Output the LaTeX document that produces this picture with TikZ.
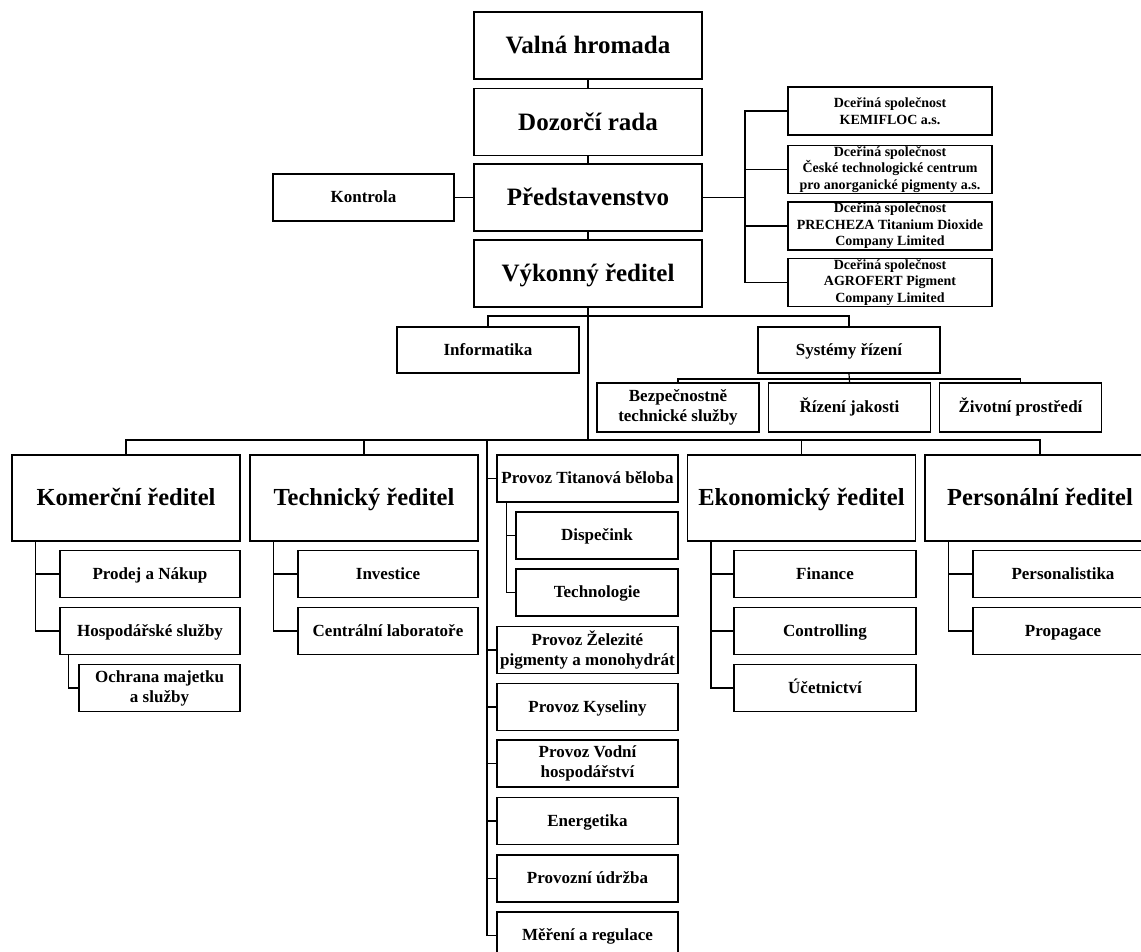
\documentclass[tikz,border=0pt]{standalone}
\usepackage{fontspec}
\setmainfont{Liberation Serif}
\usetikzlibrary{positioning,calc}
\tikzset{
    box/.style={
        draw,
        rectangle,
        fill=white,
        line width=1.2pt,
        inner sep=1pt,
        align=center
    },
    lines/.style={text height={}, text depth={}},
    topbox/.style={
        box,
        text height=21.5pt, text depth=5.5pt,
        minimum width=228pt,
        minimum height=67pt,
        font=\bfseries\fontsize{25}{30}\selectfont
    },
    chiefbox/.style={
        box,
        text height=21pt, text depth=5.4pt,
        minimum width=228pt,
        minimum height=86pt,
        font=\bfseries\fontsize{24.5}{29}\selectfont
    },
    unitbox/.style={
        box,
        text height=14.6pt, text depth=3.7pt,
        minimum width=181pt,
        minimum height=47pt,
        font=\bfseries\fontsize{17}{20}\selectfont
    },
    smallunit/.style={
        unitbox,
        minimum width=162pt
    },
    firmbox/.style={
        box,
        minimum width=204pt,
        minimum height=48pt,
        font=\bfseries\fontsize{14}{16.5}\selectfont
    },
    link/.style={line width=1.2pt}
}

\begin{document}
\begin{tikzpicture}[x=1pt, y=-1pt]
    \useasboundingbox (0,0) rectangle (1141,951);

    \node[topbox] (valna) at (588,45.5) {Valná hromada};
    \node[topbox] (dozor) at (588,122) {Dozorčí rada};
    \node[topbox] (pred) at (588,197.5) {Představenstvo};
    \node[topbox] (vykon) at (588,273.5) {Výkonný ředitel};
    \node[unitbox] (kontrola) at (363.5,197.5) {Kontrola};

    \node[firmbox] (firma1) at (890,111) {Dceřiná společnost\\KEMIFLOC a.s.};
    \node[firmbox] (firma2) at (890,169.5) {Dceřiná společnost\\České technologické centrum\\pro anorganické pigmenty a.s.};
    \node[firmbox] (firma3) at (890,226) {Dceřiná společnost\\PRECHEZA Titanium Dioxide\\Company Limited};
    \node[firmbox] (firma4) at (890,282.5) {Dceřiná společnost\\AGROFERT Pigment\\Company Limited};

    \node[unitbox, minimum width=182pt, minimum height=46pt] (info) at (488,350) {Informatika};
    \node[unitbox, minimum width=182pt, minimum height=46pt] (system) at (849,350) {Systémy řízení};
    \node[smallunit, lines, minimum height=49pt] (bezp) at (678,407.5) {Bezpečnostně\\technické služby};
    \node[smallunit, minimum height=49pt] (jakost) at (849.5,407.5) {Řízení jakosti};
    \node[smallunit, minimum height=49pt] (zivot) at (1020.5,407.5) {Životní prostředí};

    \node[chiefbox] (komer) at (126,498) {Komerční ředitel};
    \node[chiefbox] (techn) at (364,498) {Technický ředitel};
    \node[chiefbox] (ekon) at (801.5,498) {Ekonomický ředitel};
    \node[chiefbox, minimum width=230pt] (person) at (1040,498) {Personální ředitel};

    \node[unitbox, minimum width=180pt] (prodej) at (150,574) {Prodej a Nákup};
    \node[unitbox, minimum width=180pt] (hosp) at (150,631) {Hospodářské služby};
    \node[smallunit, lines, minimum width=161pt] (ochrana) at (159.5,688) {Ochrana majetku\\a služby};

    \node[unitbox, minimum width=180pt] (invest) at (388,574) {Investice};
    \node[unitbox, minimum width=180pt] (labor) at (388,631) {Centrální laboratoře};

    \node[unitbox, minimum width=182pt] (finance) at (825,574) {Finance};
    \node[unitbox, minimum width=182pt] (control) at (825,631) {Controlling};
    \node[unitbox, minimum width=182pt] (ucet) at (825,688) {Účetnictví};

    \node[unitbox, minimum width=180pt] (personal) at (1063,574) {Personalistika};
    \node[unitbox, minimum width=180pt] (propag) at (1063,631) {Propagace};

    \node[unitbox] (titan) at (587.5,478.5) {Provoz Titanová běloba};
    \node[smallunit] (disp) at (597,535.5) {Dispečink};
    \node[smallunit] (techno) at (597,592.5) {Technologie};
    \node[unitbox, lines] (zelez) at (587.5,650) {Provoz Železité\\pigmenty a monohydrát};
    \node[unitbox] (kysel) at (587.5,707) {Provoz Kyseliny};
    \node[unitbox, lines] (vodni) at (587.5,763.5) {Provoz Vodní\\hospodářství};
    \node[unitbox] (energ) at (587.5,821) {Energetika};
    \node[unitbox] (udrzba) at (587.5,878.5) {Provozní údržba};
    \node[unitbox] (mereni) at (587.5,935.5) {Měření a regulace};

    \coordinate (fbus) at (745,197.5);
    \coordinate (iline) at (588,316);
    \coordinate (sline) at (849,379);
    \coordinate (dline) at (588,440);
    \coordinate (pbus) at (487,440);

    \draw[link] (valna) -- (dozor);
    \draw[link] (dozor) -- (pred);
    \draw[link] (pred) -- (vykon);
    \draw[link] (kontrola) -- (pred);

    \draw[link] (pred.east) -- (fbus);
    \draw[link] (firma1.west) -| (fbus) |- (firma4.west);
    \draw[link] (firma2.west) -- (firma2.west -| fbus);
    \draw[link] (firma3.west) -- (firma3.west -| fbus);

    \draw[link] (vykon.south) -- (dline);
    \draw[link] (info.north) |- (iline) -| (system.north);
    \draw[link] (bezp.north) |- (sline) -| (zivot.north);
    \draw[link] (system.south) -- (jakost.north);

    \draw[link] (komer.north) |- (dline) -| (person.north);
    \draw[link] (techn.north) -- (techn.north |- dline);
    \draw[link] (ekon.north) -- (ekon.north |- dline);

    \draw[link] (pbus) |- (mereni.west);
    \foreach \unit in {titan, zelez, kysel, vodni, energ, udrzba}
        \draw[link] (\unit.west) -- (\unit.west -| pbus);
    \draw[link] (disp.west) -- ++(-9,0);
    \draw[link] (techno.west) -| ([xshift=10pt]titan.south west);

    \draw[link] (prodej.west) -- ++(-24,0);
    \draw[link] (hosp.west) -| ([xshift=24pt]komer.south west);
    \draw[link] (ochrana.west) -| ([xshift=9pt]hosp.south west);

    \draw[link] (invest.west) -- ++(-24,0);
    \draw[link] (labor.west) -| ([xshift=24pt]techn.south west);

    \draw[link] (finance.west) -- ++(-23,0);
    \draw[link] (control.west) -- ++(-23,0);
    \draw[link] (ucet.west) -| ([xshift=24pt]ekon.south west);

    \draw[link] (personal.west) -- ++(-24,0);
    \draw[link] (propag.west) -| ([xshift=24pt]person.south west);
\end{tikzpicture}
\end{document}
